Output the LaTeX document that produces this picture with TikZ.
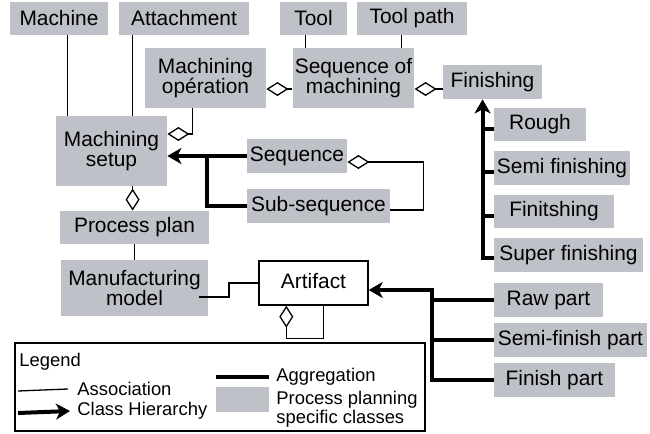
\documentclass[tikz,border=0pt]{standalone}
\usepackage{fontspec}
\setmainfont{Liberation Sans}
\usetikzlibrary{arrows.meta}
\usetikzlibrary{calc}
\definecolor{ppgray}{RGB}{191,193,200}

\begin{document}
\begin{tikzpicture}[x=0.5pt,y=-0.5pt,
  every node/.style={font=\fontsize{10.45}{10}\selectfont, inner sep=1pt, align=center},
  cls/.style={fill=ppgray},
  legtext/.style={anchor=west,align=left,font=\fontsize{9.2}{9.5}\selectfont},
  assoc/.style={line width=0.65pt},
  agg/.style={line width=0.65pt,-{Diamond[open,length=11pt,width=7pt]}},
  hier/.style={line width=2pt,-{Stealth[length=7pt,width=8pt,inset=2pt]}},
  hierline/.style={line width=2pt}]
\useasboundingbox (0,0) rectangle (650,434);
% classes
\node[cls,minimum width=49pt,minimum height=16.5pt] (machine) at (59,18.5) {Machine};
\node[cls,minimum width=65pt,minimum height=16.5pt] (attach) at (184,18.5) {Attachment};
\node[cls,minimum width=33.5pt,minimum height=16.5pt] (tool) at (313.5,18.5) {Tool};
\node[cls,minimum width=55pt,minimum height=16.5pt] (toolpath) at (412,18.5) {Tool path};
\node[cls,minimum width=60.5pt,minimum height=30pt] (mop) at (205.5,78) {Machining\\opération};
\node[cls,minimum width=60.5pt,minimum height=30pt] (seqm) at (353.5,78) {Sequence of\\machining};
\node[cls,minimum width=49.5pt,minimum height=17pt] (finishing) at (492.5,82) {Finishing};
\node[cls,minimum width=55.5pt,minimum height=35pt] (setup) at (111.5,151) {Machining\\setup};
\node[cls,minimum width=50pt,minimum height=17pt] (sequence) at (297,156) {Sequence};
\node[cls,minimum width=71.5pt,minimum height=17pt] (subseq) at (318.5,206) {Sub-sequence};
\node[cls,minimum width=46pt,minimum height=16.5pt] (rough) at (540,124.5) {Rough};
\node[cls,minimum width=68pt,minimum height=17pt] (semifin) at (562,168) {Semi finishing};
\node[cls,minimum width=60pt,minimum height=16.5pt] (finit) at (554,211.5) {Finitshing};
\node[cls,minimum width=74.5pt,minimum height=17pt] (superfin) at (568.5,255) {Super finishing};
\node[cls,minimum width=54.5pt,minimum height=17pt] (raw) at (548.5,300) {Raw part};
\node[cls,minimum width=76.5pt,minimum height=17pt] (semipart) at (570.5,340) {Semi-finish part};
\node[cls,minimum width=60.5pt,minimum height=17pt] (finpart) at (554.5,380) {Finish part};
\node[cls,minimum width=74.5pt,minimum height=16.5pt] (plan) at (134.5,227.5) {Process plan};
\node[cls,minimum width=73.5pt,minimum height=28pt] (mfg) at (134.5,288) {Manufacturing\\model};
\node[draw,line width=0.7pt,minimum width=54.5pt,minimum height=22pt] (artifact) at (313.5,283) {\raisebox{2pt}{Artifact}};
% associations
\draw[assoc] ([xshift=6pt]setup.north west) -- ([xshift=6pt]setup.north west |- machine.south);
\draw[assoc] ([xshift=7pt]attach.south west) -- ([xshift=7pt]attach.south west |- setup.north);
\draw[assoc] ([xshift=6.5pt]seqm.north west) -- ([xshift=6.5pt]seqm.north west |- tool.south);
\draw[assoc] ([xshift=-6.5pt]seqm.north east) -- ([xshift=-6.5pt]seqm.north east |- toolpath.south);
\draw[assoc] (plan.south) -- (mfg.north);
\coordinate (m1) at (229,283);
\draw[assoc] ([xshift=-4.5pt,yshift=-4.5pt]mfg.east) -| (m1) -- (artifact.west);
% aggregations
\draw[agg] ([yshift=-5.5pt]seqm.west) -- ([yshift=-5.5pt]seqm.west -| mop.east);
\draw[agg] ([xshift=24pt]mop.south west) |- ([yshift=8.5pt]setup.east);
\draw[agg] ([yshift=-3.5pt]finishing.west) -- ([yshift=-3.5pt]finishing.west -| seqm.east);
\draw[agg] ([yshift=-2pt]subseq.east) -| ([xshift=38pt,yshift=-3pt]sequence.east) -- ([yshift=-3pt]sequence.east);
\draw[agg] ([xshift=38.5pt]setup.south west) -- ([xshift=38.5pt]setup.south west |- plan.north);
\draw[agg] ([xshift=32.5pt]artifact.south west) -- ++(0,-16.5pt) -| ([xshift=14pt]artifact.south west);
% class hierarchy
\coordinate (j1) at (207,156);
\draw[hier] (sequence.west) -- (sequence.west -| setup.east);
\draw[hierline] (subseq.west) -| (j1);
\coordinate (fbar) at ([xshift=20pt]finishing.south west);
\draw[hier] ([yshift=-1.5pt]superfin.west) -| (fbar);
\foreach \n in {rough,semifin,finit}
  \draw[hierline] ([yshift=-2pt]\n.west) -- ([yshift=-2pt]\n.west -| fbar);
\coordinate (abar) at (432,290);
\draw[hier] (finpart.west) -| (abar) -- (abar -| artifact.east);
\foreach \n in {raw,semipart}
  \draw[hierline] (\n.west) -- (\n.west -| abar);
% legend
\node[draw,line width=0.65pt,minimum width=205pt,minimum height=44pt] (legend) at (220,387) {};
\node[legtext] (legtitle) at (17,362) {Legend};
\node[legtext] (legassoc) at (75,389) {Association};
\node[legtext] (leghier) at (75,411) {Class Hierarchy};
\node[legtext] (legagg) at (274,377) {Aggregation};
\node[legtext] (legcls) at (274,409.5) {Process planning\\specific classes};
\node[cls,minimum width=26.5pt,minimum height=12.5pt] (legbox) at (242.5,399.5) {};
\draw[assoc] (18,391) -- ([xshift=-3.5pt]legassoc.west);
\draw[hier] (18,413) -- ([xshift=-2.5pt]leghier.west);
\draw[hierline] (216,377) -- ([xshift=-2.5pt]legagg.west);
\end{tikzpicture}
\end{document}
